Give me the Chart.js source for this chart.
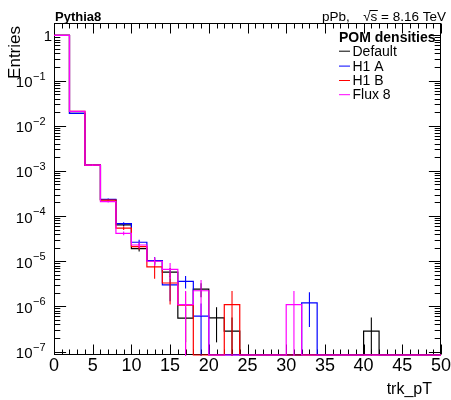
<!DOCTYPE html>
<html><head><meta charset="utf-8">
<script src="https://cdn.jsdelivr.net/npm/chart.js@4.4.1/dist/chart.umd.min.js"></script>
<style>html,body{margin:0;padding:0;background:#fff;}#wrap{width:451px;height:400px;position:relative;}</style>
</head><body><div id="wrap"><canvas id="c" width="451" height="400"></canvas></div>
<script>
// ---- data ----
const binLowEdges = [0,2,4,6,8,10,12,14,16,18,20,22,24,26,28,30,32,34,36,38,40,42,44,46,48];
const binUpperEdge = 50;
const xTickLabels = [0,5,10,15,20,25,30,35,40,45,50];
const yDecades = [0,-1,-2,-3,-4,-5,-6,-7];
const seriesNames = ['Default','H1 A','H1 B','Flux 8'];

const defaultVals = [1.0,0.0187,1.34e-3,2.3e-4,6.4e-5,1.9e-5,1.03e-5,5.75e-6,5.5e-7,2.42e-6,5.6e-7,2.83e-7,0,0,0,0,0,0,0,0,2.83e-7,0,0,0,0];
const defaultErr  = [0.003,3.7e-4,4e-5,9e-6,4.5e-6,2.5e-6,1.75e-6,1.3e-6,3.9e-7,8.2e-7,4.0e-7,2.83e-7,0,0,0,0,0,0,0,0,2.83e-7,0,0,0,0];

const h1aVals = [1.0,0.0187,1.34e-3,2.35e-4,6.8e-5,2.63e-5,1.03e-5,3.0e-6,3.6e-6,6.1e-7,0,0,0,0,0,0,1.2e-6,0,0,0,0,0,0,0,0];
const h1aErr  = [0.003,3.7e-4,4e-5,9e-6,5e-6,3.5e-6,2.0e-6,1.7e-6,1.1e-6,5.5e-7,0,0,0,0,0,0,8.5e-7,0,0,0,0,0,0,0,0];

const h1bVals = [1.0,0.0207,1.34e-3,2.25e-4,5.4e-5,2.1e-5,7.5e-6,3.3e-6,1.07e-6,0,0,1.1e-6,0,0,0,0,0,0,0,0,0,0,0,0,0];
const h1bErr  = [0.003,4e-4,4e-5,9e-6,5e-6,3e-6,3.4e-6,2.2e-6,1.07e-6,0,0,1.1e-6,0,0,0,0,0,0,0,0,0,0,0,0,0];

const flux8Vals = [1.0,0.0207,1.34e-3,2.09e-4,4.15e-5,2.29e-5,1.0e-5,6.6e-6,1.1e-6,2.22e-6,0,0,0,0,0,1.1e-6,0,0,0,0,0,0,0,0,0];
const flux8Err  = [0.003,4e-4,4e-5,9e-6,4e-6,3.5e-6,2.2e-6,2.5e-6,1.1e-6,1.6e-6,0,0,0,0,0,1.1e-6,0,0,0,0,0,0,0,0,0];

const seriesColors = ['#000000','#0000ff','#ff0000','#ff00ff'];
const Y_MIN = 8.4e-8, Y_MAX = 1.88;

// ---- build step outlines ----
function stepPoints(vals){
  const pts = [];
  vals.forEach((v,i)=>pts.push({x:binLowEdges[i], y: v>0 ? v : Y_MIN}));
  pts.push({x:binUpperEdge, y: vals[vals.length-1]>0 ? vals[vals.length-1] : Y_MIN});
  return pts;
}
const allVals = [defaultVals,h1aVals,h1bVals,flux8Vals];
const allErr = [defaultErr,h1aErr,h1bErr,flux8Err];

const FONT = '"Liberation Sans", Arial, Helvetica, sans-serif';

const errPlugin = {
  id:'errbars',
  afterDatasetDraw(chart, args){
    const i = args.index;
    const {ctx, chartArea:a, scales:{x,y}} = chart;
    ctx.save();
    ctx.beginPath(); ctx.rect(a.left, a.top, a.right-a.left, a.bottom-a.top+1); ctx.clip();
    ctx.strokeStyle = seriesColors[i]; ctx.lineWidth = 1.1;
    allVals[i].forEach((v,k)=>{
      if(!(v>0)) return;
      const e = allErr[i][k];
      const lo = Math.max(v-e, Y_MIN*0.5), hi = v+e;
      const cx = x.getPixelForValue(binLowEdges[k]+1);
      const yl = y.getPixelForValue(lo);
      ctx.beginPath();
      ctx.moveTo(cx, Math.min(yl, a.bottom+2));
      ctx.lineTo(cx, y.getPixelForValue(hi));
      ctx.stroke();
    });
    ctx.restore();
  }
};

const framePlugin = {
  id:'frame',
  beforeDatasetsDraw(chart){
    const {ctx, scales:{x,y}} = chart;
    const L = 54.5, R = 440.5, T = 23.5, B = 354.5;
    ctx.save();
    ctx.strokeStyle = '#000'; ctx.lineWidth = 1;
    ctx.strokeRect(L, T, R-L, B-T);
    ctx.beginPath();
    for(let v=0; v<=50; v++){
      const px = Math.round(x.getPixelForValue(v))+0.5;
      const len = v%5===0 ? 10 : 5;
      ctx.moveTo(px, B); ctx.lineTo(px, B-len);
      ctx.moveTo(px, T); ctx.lineTo(px, T+len);
    }
    for(let e=-8; e<=0; e++){
      for(let m=1; m<=9; m++){
        const v = m*Math.pow(10,e);
        if(v<Y_MIN || v>Y_MAX) continue;
        const py = Math.round(y.getPixelForValue(v))+0.5;
        const len = m===1 ? 11.6 : 5.8;
        ctx.moveTo(L, py); ctx.lineTo(L+len, py);
        ctx.moveTo(R, py); ctx.lineTo(R-len, py);
      }
    }
    ctx.stroke();
    ctx.restore();
  },
  afterDraw(chart){
    const {ctx, scales:{x,y}} = chart;
    ctx.save();
    ctx.fillStyle = '#000';
    ctx.font = '18px ' + FONT; ctx.textAlign = 'center'; ctx.textBaseline = 'alphabetic';
    xTickLabels.forEach(v=>ctx.fillText(String(v), x.getPixelForValue(v), 371));
    yDecades.forEach(e=>{
      const py = y.getPixelForValue(Math.pow(10,e));
      if(e===0){
        ctx.font = '15px ' + FONT; ctx.textAlign='right';
        ctx.fillText('1', 52, py+5.5);
      } else {
        ctx.font = '15px ' + FONT; ctx.textAlign='right';
        ctx.fillText('10', 32.5, py+6.5);
        ctx.font = '11px ' + FONT; ctx.textAlign='left';
        ctx.fillText('\u2212'+String(-e), 33, py-1);
      }
    });
    ctx.font = '16px ' + FONT; ctx.textAlign='right';
    ctx.fillText('trk_pT', 432, 394);
    ctx.save();
    ctx.translate(20, 26); ctx.rotate(-Math.PI/2);
    ctx.font = '17px ' + FONT; ctx.textAlign='right';
    ctx.fillText('Entries', 0, 0);
    ctx.restore();
    ctx.font = 'bold 13px ' + FONT; ctx.textAlign='left';
    ctx.fillText('Pythia8', 55, 20.5);
    // top-right energy label, right edge at x=446
    ctx.font = '13.5px ' + FONT; ctx.textAlign='left';
    const rest = ' = 8.16 TeV';
    const wRest = ctx.measureText(rest).width, wS = ctx.measureText('s').width, wRt = ctx.measureText('\u221A').width;
    const restX = 446 - wRest, sx = restX - wS, rtX = sx - wRt;
    ctx.fillText(rest, restX, 20.5);
    ctx.fillText('s', sx, 20.5);
    ctx.fillText('\u221A', rtX, 20.5);
    ctx.beginPath(); ctx.lineWidth=1; ctx.moveTo(sx-1, 10.5); ctx.lineTo(sx+wS+0.5, 10.5); ctx.stroke();
    ctx.fillText('pPb,', 322, 20.5);
    ctx.font = 'bold 14px ' + FONT; ctx.textAlign='left';
    ctx.fillText('POM densities', 339, 42.3);
    const baselines = [55.7, 70.6, 85, 99.2];
    seriesNames.forEach((n,i)=>{
      ctx.strokeStyle = seriesColors[i]; ctx.lineWidth = 1;
      ctx.beginPath(); ctx.moveTo(339, baselines[i]-4.5); ctx.lineTo(350, baselines[i]-4.5); ctx.stroke();
      ctx.font = '14px ' + FONT; ctx.fillStyle='#000';
      ctx.fillText(n, 352.5, baselines[i]);
    });
    ctx.restore();
  }
};

new Chart(document.getElementById('c'), {
  type:'line',
  data:{
    datasets: allVals.map((vals,i)=>({
      label: seriesNames[i],
      data: stepPoints(vals),
      stepped: 'before',
      order: 10 - i,
      borderColor: seriesColors[i],
      borderWidth: 1.2,
      pointRadius: 0,
      fill: false,
      clip: {left:0, top:0, right:0, bottom:1}
    }))
  },
  options:{
    responsive:false, animation:false, devicePixelRatio:1,
    layout:{padding:{left:54, right:10, top:23, bottom:45}},
    scales:{
      x:{type:'linear', min:0, max:50, display:false},
      y:{type:'logarithmic', min:Y_MIN, max:Y_MAX, display:false}
    },
    plugins:{legend:{display:false}, tooltip:{enabled:false}},
    elements:{line:{tension:0}}
  },
  plugins:[framePlugin, errPlugin]
});
</script></body></html>
